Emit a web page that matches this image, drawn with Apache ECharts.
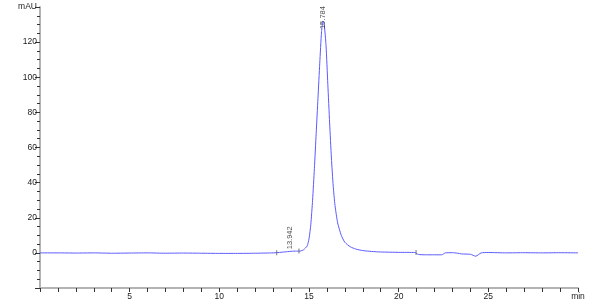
<!DOCTYPE html>
<html>
<head>
<meta charset="utf-8">
<script src="https://cdn.jsdelivr.net/npm/echarts@6/dist/echarts.min.js"></script>
<style>html,body{margin:0;padding:0;background:#fff}#c{width:600px;height:304px}</style>
</head>
<body>
<div id="c"></div>
<script>
// Retention time (min) and absorbance (mAU)
const times = [0, 1, 2, 3, 4, 5, 6, 7, 8, 9, 10, 11, 12, 12.6, 13.0, 13.2, 13.5, 13.8, 14.0, 14.3, 14.5, 14.7, 14.9, 15.0, 15.1, 15.2, 15.3, 15.4, 15.5, 15.6, 15.7, 15.784, 15.85, 15.95, 16.05, 16.15, 16.25, 16.35, 16.45, 16.6, 16.8, 17.0, 17.3, 17.6, 18.0, 18.5, 19.0, 20.0, 20.9, 21.1, 21.5, 22.0, 22.4, 22.6, 23.0, 23.3, 23.5, 24.0, 24.3, 24.6, 25.0, 26.0, 27.0, 28.0, 29.0, 30.0];
const absorbance = [0, 0, -0.1, 0, -0.2, -0.1, 0, -0.2, -0.1, -0.2, -0.3, -0.3, -0.2, -0.1, 0, 0.1, 0.4, 0.7, 0.9, 1.0, 1.0, 1.8, 4, 8, 16, 30, 48, 68, 88, 108, 126, 132, 130, 118, 96, 74, 54, 38, 27, 17, 10, 6, 3.5, 2.2, 1.3, 0.8, 0.5, 0.3, 0.2, -0.9, -1.1, -1.1, -1.1, 0, 0.1, -0.2, -0.6, -0.8, -1.9, 0, 0.2, 0, 0.1, 0, 0.1, 0];
// Peak annotations
const peakTimes = [13.942, 15.784];
const peakHeights = [0.9, 132];
// Integration marks on the baseline
const markTimes = [13.2, 14.44, 20.97];
const markValues = [0.1, 1.0, 0.2];
// Axis labels
const xTicks = [5, 10, 15, 20, 25, 30];
const xUnit = 'min';
const yTicks = [0, 20, 40, 60, 80, 100, 120, 140];
const yUnit = 'mAU';

const font = 'Liberation Sans, Arial, sans-serif';
const chart = echarts.init(document.getElementById('c'));
const line = times.map((t, i) => [t, absorbance[i]]);
const peaks = peakTimes.map((t, i) => ({
  value: [t, peakHeights[i]],
  label: { distance: i === 1 ? -8 : 2 }
}));
const marks = markTimes.map((t, i) => [t, markValues[i]]);
chart.setOption({
  animation: false,
  grid: { left: 40, right: 22, top: 7, bottom: 16 },
  xAxis: {
    type: 'value', min: 0, max: 30, interval: 5,
    axisLine: { onZero: false, lineStyle: { color: '#b4b4b4', width: 2 } },
    axisTick: { show: true, length: 4, lineStyle: { color: '#333' } },
    minorTick: { show: true, splitNumber: 5, length: 4, lineStyle: { color: '#333', width: 1 } },
    splitLine: { show: false },
    axisLabel: {
      color: '#222', fontSize: 8.5, fontFamily: font, margin: 4,
      formatter: v => v === 30 ? xUnit : (xTicks.includes(v) ? String(v) : '')
    }
  },
  yAxis: {
    type: 'value', min: -20, max: 140, interval: 20,
    axisLine: { show: true, onZero: false, lineStyle: { color: '#b4b4b4', width: 2 } },
    axisTick: { show: true, length: 5, lineStyle: { color: '#333' } },
    minorTick: { show: true, splitNumber: 4, length: 3, lineStyle: { color: '#333', width: 1 } },
    splitLine: { show: false },
    axisLabel: {
      color: '#222', fontSize: 8.5, fontFamily: font, margin: 3,
      formatter: v => v === 140 ? yUnit : (yTicks.includes(v) ? String(v) : '')
    }
  },
  series: [{
    type: 'line', data: line, showSymbol: false, smooth: 0.2,
    lineStyle: { color: '#5a5aff', width: 1 }, z: 2
  }, {
    type: 'scatter', data: marks, symbol: 'rect', symbolSize: [1, 5],
    itemStyle: { color: '#555' }, z: 3
  }, {
    type: 'scatter', data: peaks, symbolSize: 0,
    label: {
      show: true, position: 'top', rotate: 90, align: 'left', verticalAlign: 'middle',
      color: '#222', fontSize: 7.5, fontFamily: font,
      formatter: p => p.value[0].toFixed(3)
    }, z: 4
  }]
});
</script>
</body>
</html>
